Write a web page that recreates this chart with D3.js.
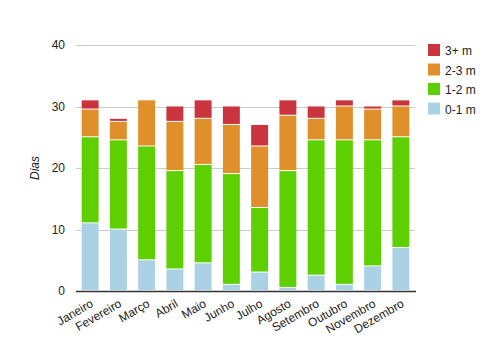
<!DOCTYPE html>
<html>
<head>
<meta charset="utf-8">
<script src="https://cdn.jsdelivr.net/npm/d3@7"></script>
<style>
body { margin: 0; background: #fff; }
text { font-family: "Liberation Sans", Arial, sans-serif; }
</style>
</head>
<body>
<script>
var w = 495;
var h = 354;

var months = ["Janeiro", "Fevereiro", "Março", "Abril", "Maio", "Junho",
  "Julho", "Agosto", "Setembro", "Outubro", "Novembro", "Dezembro"];
var keys = ["0-1 m", "1-2 m", "2-3 m", "3+ m"];
var s01 = [11, 10, 5, 3.5, 4.5, 1, 3, 0.5, 2.5, 1, 4, 7];
var s12 = [14, 14.5, 18.5, 16, 16, 18, 10.5, 19, 22, 23.5, 20.5, 18];
var s23 = [4.5, 3, 7.5, 8, 7.5, 8, 10, 9, 3.5, 5.5, 5, 5];
var s3p = [1.5, 0.5, 0, 2.5, 3, 3, 3.5, 2.5, 2, 1, 0.5, 1];
var yTicks = [0, 10, 20, 30, 40];

var colors = ["#abd1e4", "#5ecf00", "#e0902a", "#c9343f"];

var rows = months.map(function(m, i) {
  return { month: m, "0-1 m": s01[i], "1-2 m": s12[i], "2-3 m": s23[i], "3+ m": s3p[i] };
});

var svg = d3.select("body").append("svg")
  .attr("width", w)
  .attr("height", h);

var x = d3.scaleBand().domain(months).range([76, 415]).paddingInner(0.4).paddingOuter(0.2);
var y = d3.scaleLinear().domain([0, 40]).range([291, 45]);
var color = d3.scaleOrdinal().domain(keys).range(colors);

// grid
svg.append("g").selectAll("line")
  .data(yTicks.filter(function(d) { return d > 0; }))
  .enter().append("line")
  .attr("x1", 76).attr("x2", 415)
  .attr("y1", function(d) { return Math.round(y(d)) + 0.5; })
  .attr("y2", function(d) { return Math.round(y(d)) + 0.5; })
  .attr("stroke", "#cccccc");

svg.append("g").selectAll("text")
  .data(yTicks)
  .enter().append("text")
  .attr("x", 65)
  .attr("y", function(d) { return y(d) + 4; })
  .attr("text-anchor", "end")
  .attr("font-size", 12)
  .attr("fill", "#222")
  .text(function(d) { return d; });

var stack = d3.stack().keys(keys);
var series = stack(rows);

svg.append("g").selectAll("g")
  .data(series)
  .enter().append("g")
  .attr("fill", function(d) { return color(d.key); })
  .selectAll("rect")
  .data(function(d) { return d; })
  .enter().append("rect")
  .attr("x", function(d) { return x(d.data.month); })
  .attr("width", x.bandwidth())
  .attr("y", function(d) { return y(d[1]); })
  .attr("height", function(d) { return Math.max(0, y(d[0]) - y(d[1]) - 1); });

// baseline
svg.append("line")
  .attr("x1", 76).attr("x2", 416)
  .attr("y1", 291.5).attr("y2", 291.5)
  .attr("stroke", "#333").attr("stroke-width", 1.5);

// x labels
svg.append("g").selectAll("text")
  .data(months)
  .enter().append("text")
  .attr("transform", function(d) {
    return "translate(" + (x(d) + x.bandwidth() / 2 + 4) + ",306) rotate(-30)";
  })
  .attr("text-anchor", "end")
  .attr("font-size", 12)
  .attr("fill", "#222")
  .text(function(d) { return d; });

// y title
svg.append("text")
  .attr("transform", "translate(39,168) rotate(-90)")
  .attr("text-anchor", "middle")
  .attr("font-size", 12)
  .attr("font-style", "italic")
  .attr("fill", "#222")
  .text("Dias");

// legend
var leg = svg.append("g").selectAll("g")
  .data(keys.slice().reverse())
  .enter().append("g")
  .attr("transform", function(d, i) { return "translate(428," + (44 + i * 19.5) + ")"; });
leg.append("rect").attr("width", 12).attr("height", 12)
  .attr("fill", function(d) { return color(d); });
leg.append("text").attr("x", 17).attr("y", 11)
  .attr("font-size", 12).attr("fill", "#222")
  .text(function(d) { return d; });
</script>
</body>
</html>
